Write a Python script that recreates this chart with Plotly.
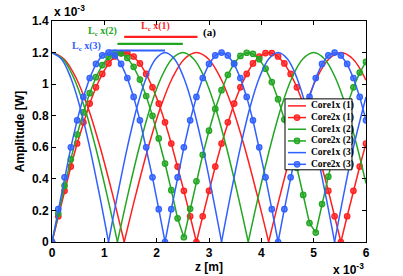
import plotly.graph_objects as go

# ---------------- data (z in units of 1e-3 m, amplitude in units of 1e-3 W) ----------------
# Core1x curves (solid): key points along each arch, None separates the arches
Z_CORE1_1 = [0, 0.23, 0.46, 0.69, 0.92, 1.15, 1.38, None,
             1.38, 1.61, 1.84, 2.07, 2.30, 2.53, 2.76, 2.99, 3.22, 3.45, 3.68, 3.91, 4.14, None,
             4.14, 4.37, 4.60, 4.83, 5.06, 5.29, 5.52, 5.75, 6.0]
A_CORE1_1 = [1.2, 1.159, 1.039, 0.849, 0.6, 0.311, 0, None,
             0, 0.311, 0.6, 0.849, 1.039, 1.159, 1.2, 1.159, 1.039, 0.849, 0.6, 0.311, 0, None,
             0, 0.311, 0.6, 0.849, 1.039, 1.159, 1.2, 1.159, 1.025]

Z_CORE1_2 = [0, 0.208, 0.417, 0.625, 0.833, 1.042, 1.25, None,
             1.25, 1.458, 1.667, 1.875, 2.083, 2.292, 2.5, 2.708, 2.917, 3.125, 3.333, 3.542, 3.75, None,
             3.75, 3.958, 4.167, 4.375, 4.583, 4.792, 5.0, 5.208, 5.417, 5.625, 5.833, 6.0]
A_CORE1_2 = [1.2, 1.159, 1.039, 0.849, 0.6, 0.311, 0, None,
             0, 0.311, 0.6, 0.849, 1.039, 1.159, 1.2, 1.159, 1.039, 0.849, 0.6, 0.311, 0, None,
             0, 0.311, 0.6, 0.849, 1.039, 1.159, 1.2, 1.159, 1.039, 0.849, 0.6, 0.371]

Z_CORE1_3 = [0, 0.18, 0.36, 0.54, 0.72, 0.90, 1.08, None,
             1.08, 1.26, 1.44, 1.62, 1.80, 1.98, 2.16, 2.34, 2.52, 2.70, 2.88, 3.06, 3.24, None,
             3.24, 3.42, 3.60, 3.78, 3.96, 4.14, 4.32, 4.50, 4.68, 4.86, 5.04, 5.22, 5.40, None,
             5.40, 5.58, 5.76, 6.0]
A_CORE1_3 = [1.2, 1.159, 1.039, 0.849, 0.6, 0.311, 0, None,
             0, 0.311, 0.6, 0.849, 1.039, 1.159, 1.2, 1.159, 1.039, 0.849, 0.6, 0.311, 0, None,
             0, 0.311, 0.6, 0.849, 1.039, 1.159, 1.2, 1.159, 1.039, 0.849, 0.6, 0.311, 0, None,
             0, 0.311, 0.6, 0.919]

# Core2x curves (with markers): sampled positions
Z_SAMPLES = [0.00, 0.12, 0.24, 0.36, 0.48, 0.60, 0.72, 0.84, 0.96, 1.08, 1.20, 1.32, 1.44,
             1.56, 1.68, 1.80, 1.92, 2.04, 2.16, 2.28, 2.40, 2.52, 2.64, 2.76, 2.88, 3.00,
             3.12, 3.24, 3.36, 3.48, 3.60, 3.72, 3.84, 3.96, 4.08, 4.20, 4.32, 4.44, 4.56,
             4.68, 4.80, 4.92, 5.04, 5.16, 5.28, 5.40, 5.52, 5.64, 5.76, 5.88, 6.00]
A_CORE2_1 = [0, 0.163, 0.324, 0.478, 0.624, 0.758, 0.877, 0.980, 1.065, 1.131, 1.175, 1.197,
             1.197, 1.175, 1.131, 1.065, 0.980, 0.877, 0.758, 0.624, 0.478, 0.324, 0.163, 0,
             0.163, 0.324, 0.478, 0.624, 0.758, 0.877, 0.980, 1.065, 1.131, 1.175, 1.197,
             1.197, 1.175, 1.131, 1.065, 0.980, 0.877, 0.758, 0.624, 0.478, 0.324, 0.163, 0,
             0.163, 0.324, 0.478, 0.624]
A_CORE2_2 = [0, 0.180, 0.357, 0.525, 0.681, 0.821, 0.943, 1.044, 1.121, 1.173, 1.198, 1.195,
             1.166, 1.110, 1.029, 0.925, 0.799, 0.656, 0.497, 0.328, 0.150, 0.030, 0.210,
             0.385, 0.552, 0.705, 0.843, 0.962, 1.059, 1.132, 1.179, 1.199, 1.192, 1.158,
             1.098, 1.013, 0.905, 0.776, 0.630, 0.470, 0.298, 0.120, 0.060, 0.240, 0.414,
             0.578, 0.730, 0.864, 0.980, 1.073, 1.141]
A_CORE2_3 = [0, 0.208, 0.410, 0.600, 0.771, 0.919, 1.039, 1.128, 1.182, 1.2, 1.182, 1.128,
             1.039, 0.919, 0.771, 0.600, 0.410, 0.208, 0,
             0.208, 0.410, 0.600, 0.771, 0.919, 1.039, 1.128, 1.182, 1.2, 1.182, 1.128,
             1.039, 0.919, 0.771, 0.600, 0.410, 0.208, 0,
             0.208, 0.410, 0.600, 0.771, 0.919, 1.039, 1.128, 1.182, 1.2, 1.182, 1.128,
             1.039, 0.919, 0.771]

# Coupling-length indicator bars
LC_LABELS = ["L<sub>c</sub> x(1)", "L<sub>c</sub> x(2)", "L<sub>c</sub> x(3)"]
LC_Z = [[1.38, 2.78], [1.25, 2.50], [1.08, 2.16]]
LC_Y = [1.30, 1.255, 1.213]
LC_TEXT_POS = [(1.97, 1.368), (0.96, 1.333), (0.66, 1.238)]

NAMES = ["Core1x (1)", "Core2x (1)", "Core1x (2)", "Core2x (2)", "Core1x (3)", "Core2x (3)"]
X_TICKS = [0, 1, 2, 3, 4, 5, 6]
Y_TICKS = [0, 0.2, 0.4, 0.6, 0.8, 1.0, 1.2, 1.4]

# ---------------- style ----------------
RED, GREEN, BLUE = '#ff1f1f', '#22a622', '#3060ff'
FILL = {RED: 'rgba(255,31,31,0.75)', GREEN: 'rgba(34,166,34,0.75)', BLUE: 'rgba(48,96,255,0.75)'}
SANS = 'Liberation Sans, Arial, sans-serif'
SERIF = 'Liberation Serif, Times New Roman, serif'

W, H = 403, 276
PL, PR, PT, PB = 52, 366, 21, 242.3   # plot area in pixels


def dx(px):
    return (px - PL) / (PR - PL) * 6.0


def dy(py):
    return (PB - py) / (PB - PT) * 1.4


fig = go.Figure()

series = [
    (NAMES[0], Z_CORE1_1, A_CORE1_1, RED, False),
    (NAMES[1], Z_SAMPLES, A_CORE2_1, RED, True),
    (NAMES[2], Z_CORE1_2, A_CORE1_2, GREEN, False),
    (NAMES[3], Z_SAMPLES, A_CORE2_2, GREEN, True),
    (NAMES[4], Z_CORE1_3, A_CORE1_3, BLUE, False),
    (NAMES[5], Z_SAMPLES, A_CORE2_3, BLUE, True),
]
for name, z, a, col, mk in series:
    if mk:
        fig.add_trace(go.Scatter(
            x=z, y=a, mode='lines+markers', name=name, showlegend=False,
            line=dict(color=col, width=1.5),
            marker=dict(symbol='circle', size=5.5, color=FILL[col], line=dict(color=col, width=1.2))))
    else:
        fig.add_trace(go.Scatter(
            x=z, y=a, mode='lines', name=name, showlegend=False, connectgaps=False,
            line=dict(color=col, width=1.5, shape='spline', smoothing=1)))

bar_cols = [RED, GREEN, BLUE]
annotations = []
for lab, zz, yy, pos, col in zip(LC_LABELS, LC_Z, LC_Y, LC_TEXT_POS, bar_cols):
    fig.add_trace(go.Scatter(x=zz, y=[yy, yy], mode='lines', showlegend=False,
                             line=dict(color=col, width=2.2), hoverinfo='skip'))
    annotations.append(dict(x=pos[0], y=pos[1], xref='x', yref='y', text='<b>' + lab + '</b>',
                            showarrow=False, font=dict(family=SERIF, size=10, color=col)))

annotations.append(dict(x=3.0, y=1.325, xref='x', yref='y', text='<b>(a)</b>', showarrow=False,
                        font=dict(family=SERIF, size=11, color='black')))

# exponent labels
annotations.append(dict(x=0, y=1, xref='paper', yref='paper', xanchor='left', yanchor='bottom',
                        text='<b>x 10<sup>-3</sup></b>', showarrow=False, yshift=0,
                        font=dict(family=SANS, size=12, color='black')))
annotations.append(dict(x=1, y=-0.078, xref='paper', yref='paper', xanchor='right', yanchor='top',
                        text='<b>x 10<sup>-3</sup></b>', showarrow=False,
                        font=dict(family=SANS, size=12, color='black')))

# manual legend
shapes = [dict(type='rect', xref='x', yref='y', x0=dx(285), x1=dx(352), y0=dy(170), y1=dy(99),
               fillcolor='white', line=dict(color='black', width=1), layer='above')]
legend_cols = [RED, RED, GREEN, GREEN, BLUE, BLUE]
legend_mk = [False, True, False, True, False, True]
for i, (name, col, mk) in enumerate(zip(NAMES, legend_cols, legend_mk)):
    py = 106 + 11.7 * i
    shapes.append(dict(type='line', xref='x', yref='y', x0=dx(288), x1=dx(306), y0=dy(py), y1=dy(py),
                       line=dict(color=col, width=1.5), layer='above'))
    if mk:
        shapes.append(dict(type='circle', xref='x', yref='y', xsizemode='pixel', ysizemode='pixel',
                           xanchor=dx(297), yanchor=dy(py), x0=-2.8, x1=2.8, y0=-2.8, y1=2.8,
                           fillcolor=FILL[col], line=dict(color=col, width=1.2), layer='above'))
    annotations.append(dict(x=dx(309), y=dy(py), xref='x', yref='y', xanchor='left', yanchor='middle',
                            text='<b>' + name + '</b>', showarrow=False,
                            font=dict(family=SERIF, size=9.5, color='black')))

axis_common = dict(showline=True, linecolor='black', linewidth=1, mirror='ticks', ticks='inside',
                   ticklen=4, tickwidth=1, tickcolor='black', showgrid=False, zeroline=False,
                   tickfont=dict(family=SANS, size=12, color='black', weight='bold'), automargin=False)

fig.update_layout(
    width=W, height=H,
    margin=dict(l=PL, r=W - PR, t=PT, b=H - PB, pad=0),
    paper_bgcolor='white', plot_bgcolor='white',
    showlegend=False,
    xaxis=dict(range=[0, 6], tickvals=X_TICKS, ticktext=[str(v) for v in X_TICKS],
               title=dict(text='z [m]', standoff=1, font=dict(family=SANS, size=12, color='black', weight='bold')),
               **axis_common),
    yaxis=dict(range=[0, 1.4], tickvals=Y_TICKS, ticktext=['0', '0.2', '0.4', '0.6', '0.8', '1', '1.2', '1.4'],
               title=dict(text='Amplitude [W]', standoff=4, font=dict(family=SANS, size=12, color='black', weight='bold')),
               **axis_common),
    annotations=annotations,
    shapes=shapes,
)

fig.write_html("out.html", config={'displayModeBar': False},
               post_script="document.body.style.margin='0px';document.body.style.overflow='hidden';")
